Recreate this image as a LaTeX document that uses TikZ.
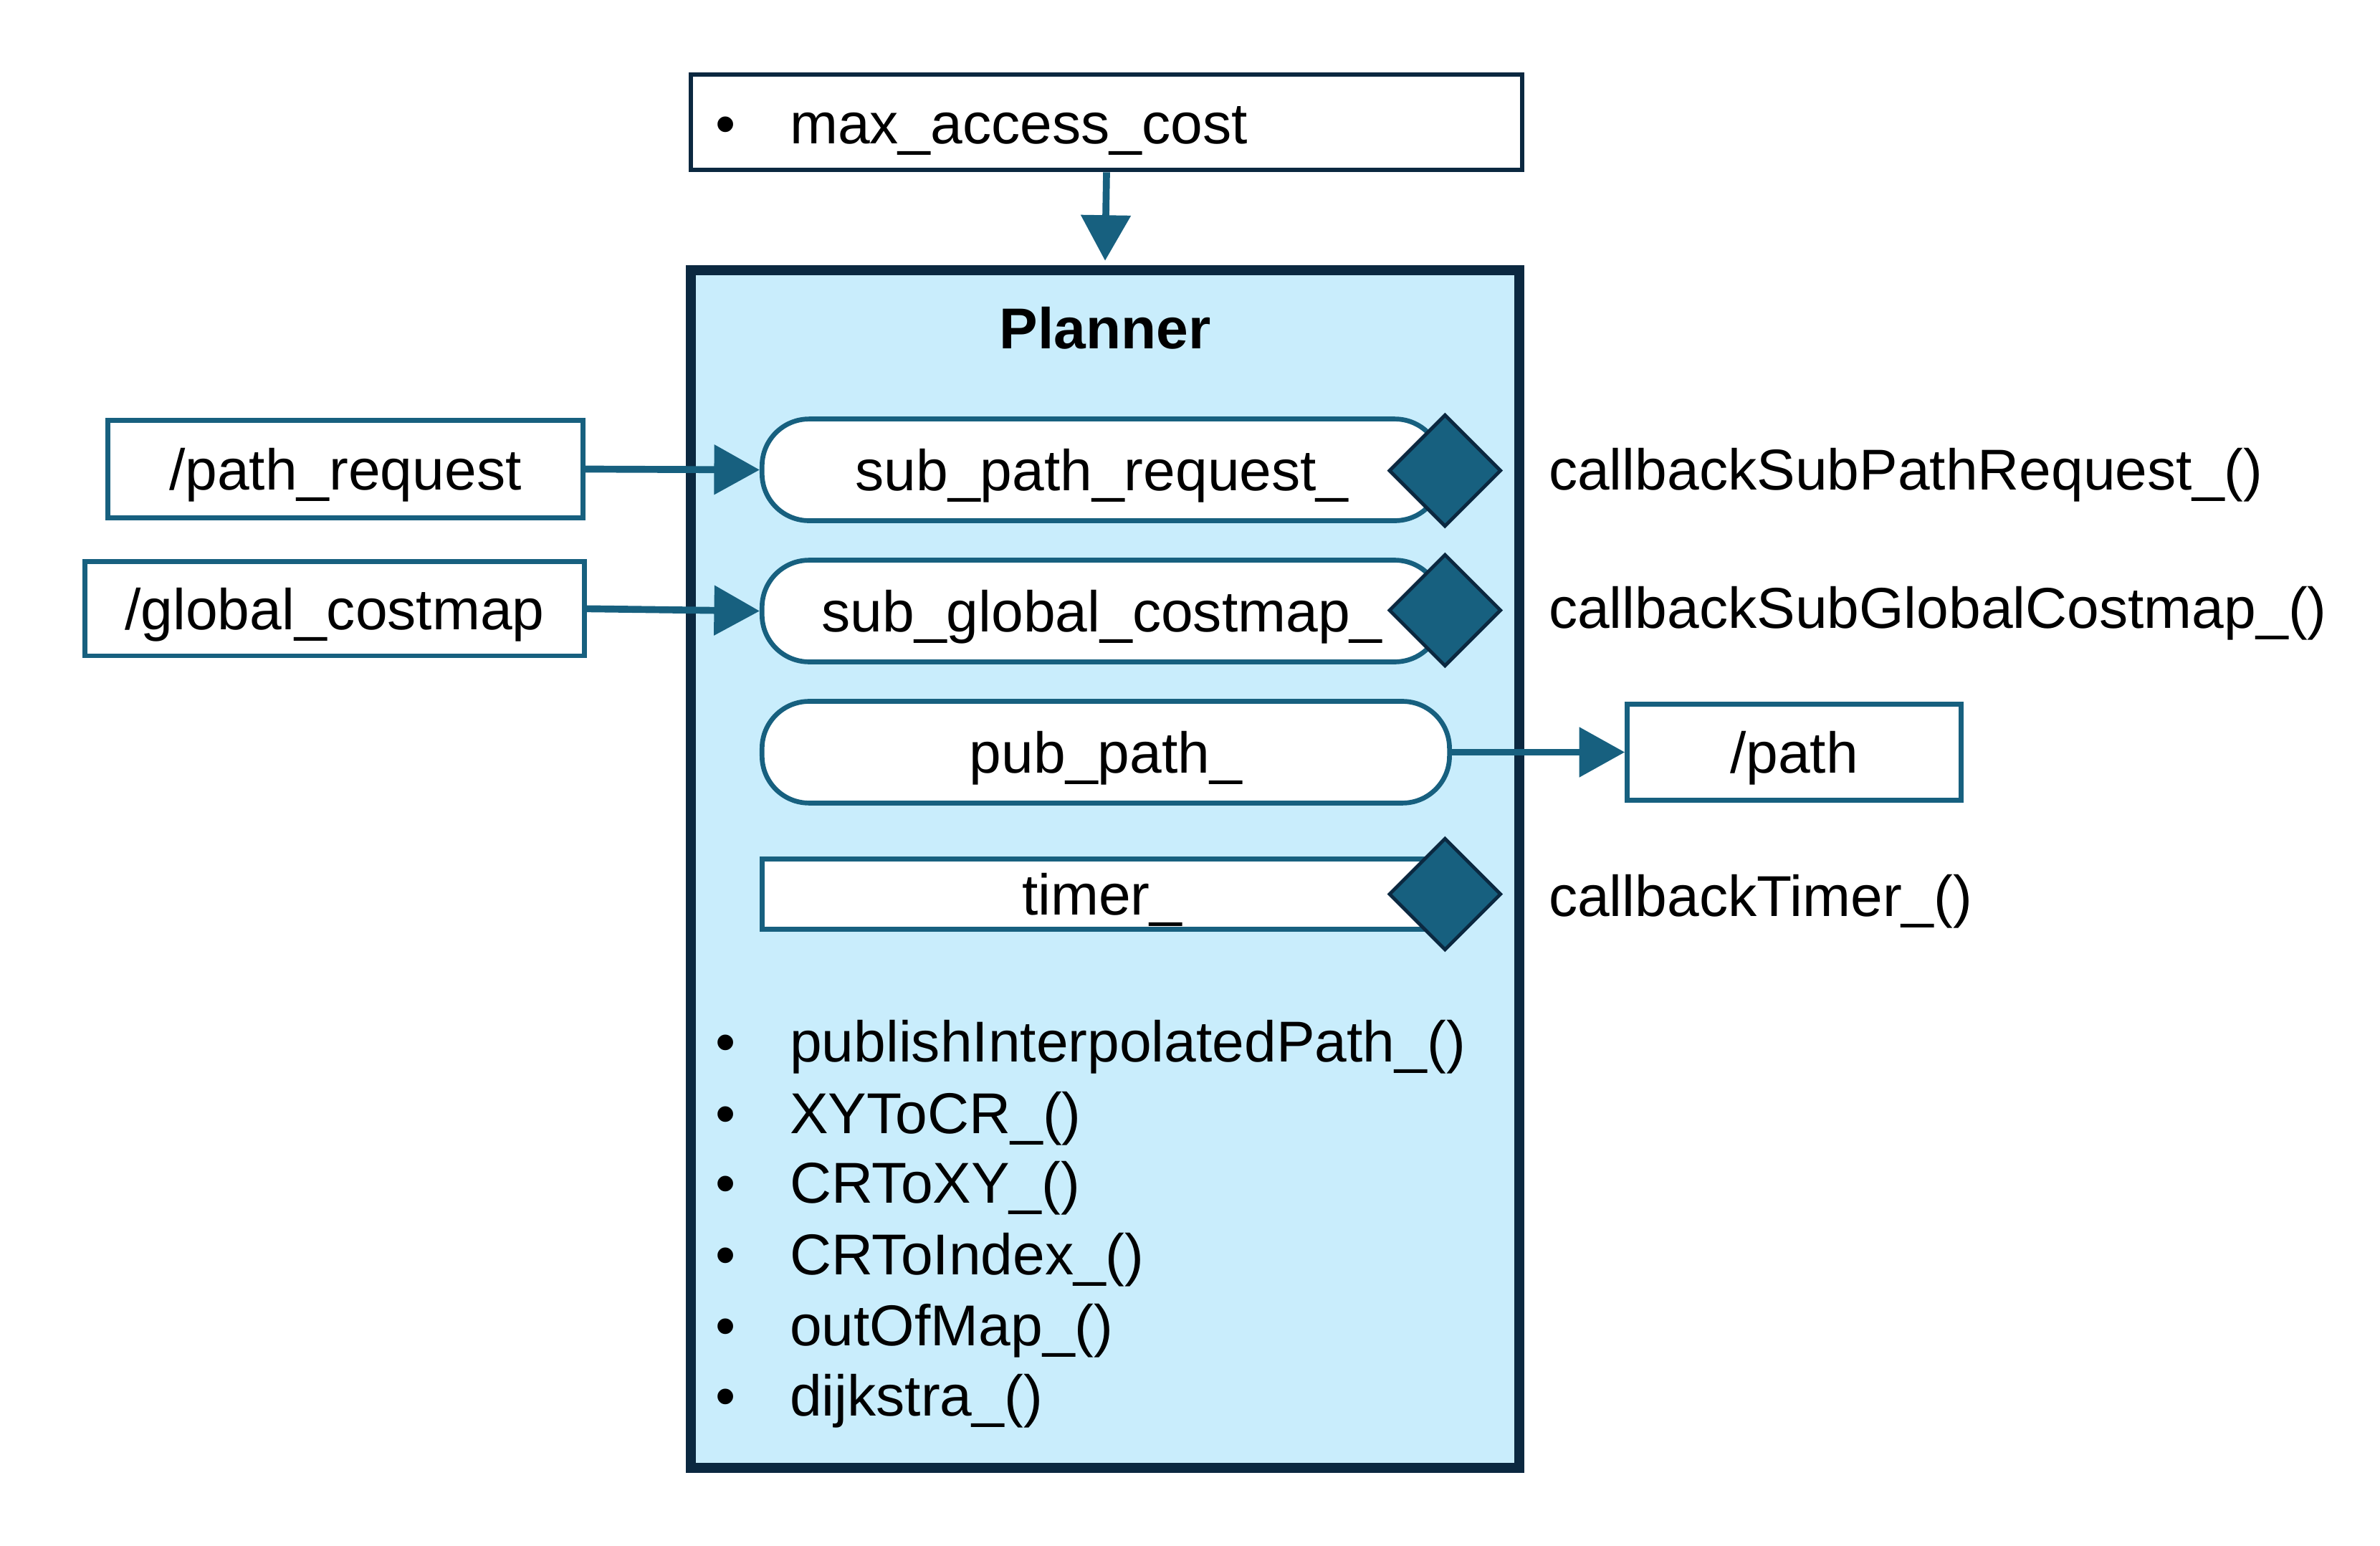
\documentclass[tikz,border=0pt]{standalone}
\usepackage{fontspec}
\setmainfont{Liberation Sans}
\usetikzlibrary{arrows.meta, positioning, shapes.geometric}

\definecolor{navy}{HTML}{0B2840}
\definecolor{topicblue}{HTML}{17607F}
\definecolor{plannerfill}{HTML}{C9EDFC}

\begin{document}
\begin{tikzpicture}[x=0.02cm, y=-0.02cm,
  every node/.style={font=\fontsize{21.6}{26}\selectfont, text height=15.5pt, text depth=0pt, inner sep=0pt},
  topic/.style={draw=topicblue, line width=1.8pt, fill=white, minimum height=1.26cm},
  pill/.style={draw=topicblue, line width=1.8pt, fill=white, rounded corners=0.62cm, minimum width=8.96cm, minimum height=1.34cm},
  cb/.style={diamond, draw=navy, line width=1.3pt, fill=topicblue, text height=0pt, minimum width=1.48cm, minimum height=1.48cm},
  flow/.style={draw=topicblue, line width=2.6pt, -{Triangle[length=0.6cm, width=0.64cm]}}]

\useasboundingbox (0,0) rectangle (1568,1018);

% --- parameter box ---
\node[draw=navy, line width=1.7pt, fill=white, minimum width=10.96cm, minimum height=1.26cm] (param) at (729,80.5) {};
\node (pbul) at (478,81) {•};
\node[anchor=west] (pmax) at (520,81) {max\_access\_cost};

% --- Planner node ---
\node[draw=navy, line width=3.6pt, fill=plannerfill, minimum width=10.92cm, minimum height=15.78cm] (planner) at (728,572.5) {};
\node[font=\fontsize{21.6}{26}\selectfont\bfseries] (title) at (728,216) {Planner};

% --- subscribers, publisher, timer ---
\node[pill] (spr) at (726,309.5) {sub\_path\_request\_};
\node[pill] (sgc) at (726,402.5) {sub\_global\_costmap\_};
\node[pill, minimum width=9.06cm] (pub) at (728.5,495.5) {pub\_path\_};
\node[topic, minimum width=8.96cm, minimum height=0.92cm] (tmr) at (726,589) {timer\_};

\node[cb] (dspr) at (952,310) {};
\node[cb] (dsgc) at (952,402) {};
\node[cb] (dtmr) at (952,589) {};

% --- callbacks ---
\node[anchor=west] (cbreq) at (1020,309) {callbackSubPathRequest\_()};
\node[anchor=west] (cbcost) at (1020,400) {callbackSubGlobalCostmap\_()};
\node[anchor=west] (cbtimer) at (1020,590) {callbackTimer\_()};

% --- methods ---
\node (b1) at (478,686) {•};
\node[anchor=west] (m1) at (520,686) {publishInterpolatedPath\_()};
\node (b2) at (478,733) {•};
\node[anchor=west] (m2) at (520,733) {XYToCR\_()};
\node (b3) at (478,779) {•};
\node[anchor=west] (m3) at (520,779) {CRToXY\_()};
\node (b4) at (478,826) {•};
\node[anchor=west] (m4) at (520,826) {CRToIndex\_()};
\node (b5) at (478,873) {•};
\node[anchor=west] (m5) at (520,873) {outOfMap\_()};
\node (b6) at (478,919) {•};
\node[anchor=west] (m6) at (520,919) {dijkstra\_()};

% --- topics ---
\node[topic, minimum width=6.26cm, minimum height=1.28cm] (prq) at (227.5,309) {/path\_request};
\node[topic, minimum width=6.58cm, minimum height=1.24cm] (gcm) at (220.5,401) {/global\_costmap};
\node[topic, minimum width=4.4cm] (path) at (1182,495.5) {/path};

% --- connectors ---
\draw[flow, shorten >=1.8pt] (param.south) -- (planner.north);
\draw[flow] (prq.east) -- (spr.west);
\draw[flow] (gcm.east) -- (sgc.west);
\draw[flow] (pub.east) -- (path.west);

\end{tikzpicture}
\end{document}
